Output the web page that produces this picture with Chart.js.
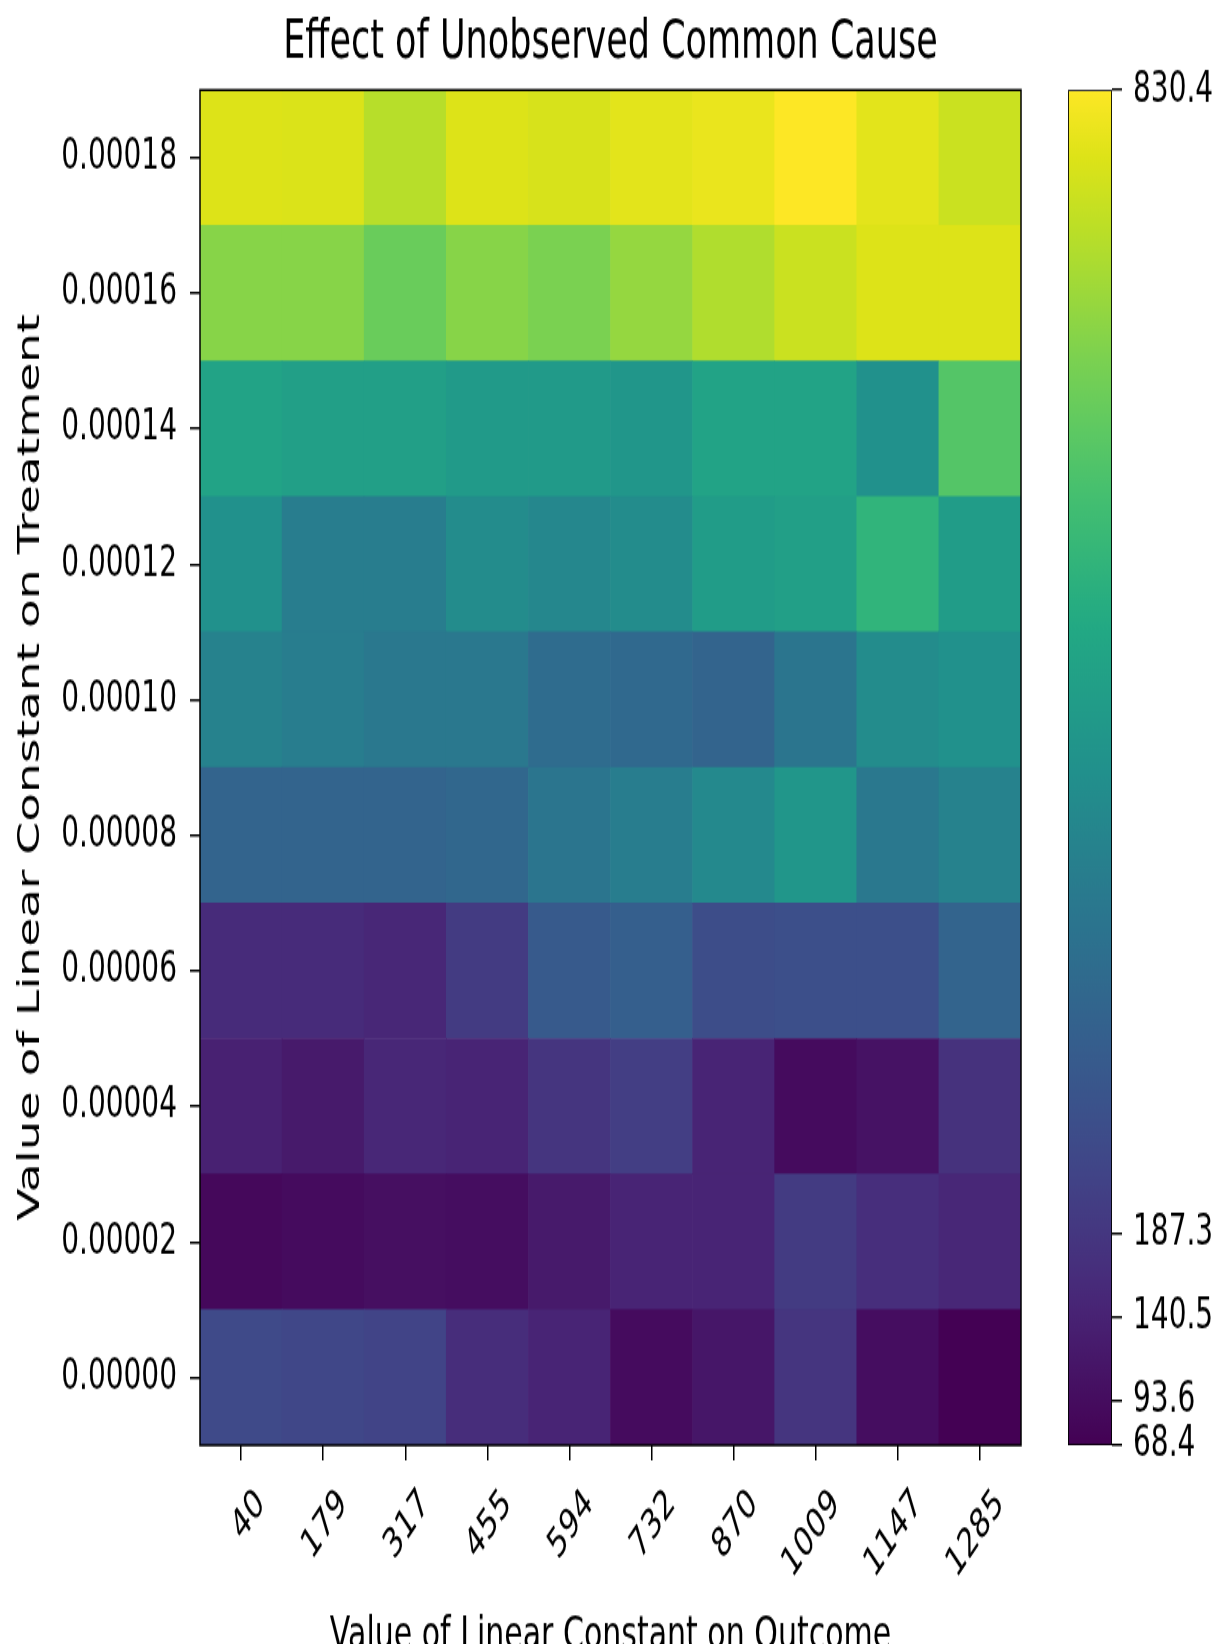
<!DOCTYPE html>
<html>
<head>
<meta charset="utf-8">
<script src="https://cdn.jsdelivr.net/npm/chart.js@4.4.1/dist/chart.umd.min.js"></script>
<style>
  html, body { margin: 0; padding: 0; background: #ffffff; }
  #wrap { position: relative; width: 1232px; height: 1644px; overflow: hidden; background: #ffffff; }
  #wrap canvas { position: absolute; left: 0; top: 0; }
</style>
</head>
<body>
<div id="wrap">
  <canvas id="heat" width="1232" height="1120"></canvas>
  <canvas id="cbar" width="1232" height="1120"></canvas>
</div>
<script>
// ---------------- data ----------------
const outcomeLabels = ['40', '179', '317', '455', '594', '732', '870', '1009', '1147', '1285'];
const treatmentValues = [0.00000, 0.00002, 0.00004, 0.00006, 0.00008, 0.00010, 0.00012, 0.00014, 0.00016, 0.00018];

const effectT00000 = [236, 228, 221, 164, 145, 91, 114, 183, 95, 68.4];
const effectT00002 = [84, 91, 99, 95, 122, 145, 145, 198, 167, 152];
const effectT00004 = [137, 122, 152, 145, 183, 205, 145, 91, 106, 175];
const effectT00006 = [160, 160, 152, 198, 282, 297, 244, 251, 251, 312];
const effectT00008 = [312, 312, 312, 320, 365, 388, 426, 465, 373, 404];
const effectT00010 = [404, 388, 373, 373, 335, 327, 312, 365, 434, 450];
const effectT00012 = [450, 388, 388, 434, 419, 434, 487, 495, 564, 487];
const effectT00014 = [510, 495, 495, 480, 480, 465, 510, 510, 450, 625];
const effectT00016 = [693, 693, 655, 693, 678, 708, 739, 770, 792, 792];
const effectT00018 = [792, 790, 747, 792, 785, 800, 808, 830.4, 800, 770];

const effectRows = [effectT00000, effectT00002, effectT00004, effectT00006, effectT00008,
                    effectT00010, effectT00012, effectT00014, effectT00016, effectT00018];

const colorMin = 68.4;
const colorMax = 830.4;
const colorbarTicks = [68.4, 93.6, 140.5, 187.3, 830.4];

const chartTitle = 'Effect of Unobserved Common Cause';
const xTitle = 'Value of Linear Constant on Outcome';
const yTitle = 'Value of Linear Constant on Treatment';

// ---------------- layout (canvas units; canvas is stretched vertically) ----------------
const CW = 1232, CH = 1120;
const S = 1644 / 1082;            // vertical stretch of the picture
const AREA_TOP = 90 / S, AREA_BOTTOM = 1445 / S;
const AREA_LEFT = 200, AREA_RIGHT = 1021;
const CB_LEFT = 1068, CB_RIGHT = 1112;

['heat', 'cbar'].forEach(id => {
  const c = document.getElementById(id);
  c.style.width = CW + 'px';
  c.style.height = (CH * S) + 'px';
});

// ---------------- viridis ----------------
const VIR = [[0,'#440154'],[0.1,'#482475'],[0.125,'#472d7b'],[0.2,'#414487'],[0.25,'#3b528b'],
  [0.3,'#355f8d'],[0.375,'#2c728e'],[0.4,'#2a788e'],[0.5,'#21918c'],[0.6,'#22a884'],
  [0.625,'#28ae80'],[0.7,'#44bf70'],[0.75,'#5ec962'],[0.8,'#7ad151'],[0.875,'#addc30'],
  [0.9,'#bddf26'],[0.95,'#dde318'],[1,'#fde725']];
function hex2rgb(h) { return [1,3,5].map(i => parseInt(h.substr(i, 2), 16)); }
const VIRRGB = VIR.map(([t, h]) => [t, hex2rgb(h)]);
function viridis(t) {
  t = Math.max(0, Math.min(1, t));
  for (let i = 1; i < VIRRGB.length; i++) {
    if (t <= VIRRGB[i][0]) {
      const [t0, c0] = VIRRGB[i - 1], [t1, c1] = VIRRGB[i];
      const f = (t - t0) / (t1 - t0);
      const c = c0.map((v, k) => Math.round(v + (c1[k] - v) * f));
      return `rgb(${c[0]},${c[1]},${c[2]})`;
    }
  }
  const c = VIRRGB[VIRRGB.length - 1][1];
  return `rgb(${c[0]},${c[1]},${c[2]})`;
}
const colorOf = v => viridis((v - colorMin) / (colorMax - colorMin));

Chart.defaults.font.family = "'DejaVu Sans', sans-serif";
Chart.defaults.color = '#000000';

// ---------------- heatmap ----------------
const step = treatmentValues[1] - treatmentValues[0];
const half = step / 2;

const heatDatasets = effectRows.map((row, r) => ({
  label: treatmentValues[r].toFixed(5),
  data: outcomeLabels.map(() => [treatmentValues[r] - half, treatmentValues[r] + half]),
  backgroundColor: row.map(colorOf),
  borderWidth: 0,
  grouped: false,
  barPercentage: 1.0,
  categoryPercentage: 1.0
}));

const framePlugin = {
  id: 'frame',
  afterDraw(chart) {
    const { ctx, chartArea: a } = chart;
    ctx.save();
    ctx.strokeStyle = '#000';
    ctx.lineWidth = 1.5;
    ctx.strokeRect(a.left, a.top, a.right - a.left, a.bottom - a.top);
    ctx.restore();
  }
};

new Chart(document.getElementById('heat'), {
  type: 'bar',
  data: { labels: outcomeLabels, datasets: heatDatasets },
  options: {
    responsive: false,
    animation: false,
    events: [],
    layout: { padding: { left: 0, right: CW - AREA_RIGHT, top: 0, bottom: 0 } },
    plugins: {
      legend: { display: false },
      tooltip: { enabled: false },
      title: {
        display: true,
        text: chartTitle,
        fullSize: false,
        font: { size: 35, weight: 'normal' },
        color: '#000',
        padding: { top: 8, bottom: AREA_TOP - 8 - 42 }
      }
    },
    scales: {
      x: {
        type: 'category',
        offset: true,
        grid: { display: true, offset: false, drawOnChartArea: false, drawTicks: true, tickLength: 10, color: '#000', lineWidth: 1.5 },
        border: { display: false },
        ticks: { font: { size: 27 }, color: '#000', minRotation: 45, maxRotation: 45, autoSkip: false, padding: 13, labelOffset: 20 },
        title: { display: true, text: xTitle, font: { size: 30 }, color: '#000', padding: { top: 0, bottom: 25 } },
        afterFit(scale) { scale.height = CH - AREA_BOTTOM; }
      },
      y: {
        type: 'linear',
        min: treatmentValues[0] - half,
        max: treatmentValues[treatmentValues.length - 1] + half,
        afterBuildTicks(scale) { scale.ticks = treatmentValues.map(v => ({ value: v })); },
        grid: { display: true, drawOnChartArea: false, drawTicks: true, tickLength: 10, color: '#000', lineWidth: 1.5 },
        border: { display: false },
        ticks: { font: { size: 28 }, color: '#000', padding: 13, callback: v => Number(v).toFixed(5) },
        title: { display: true, text: yTitle, font: { size: 31 }, color: '#000', padding: { top: 12, bottom: 13 } },
        afterFit(scale) { scale.width = AREA_LEFT; }
      }
    }
  },
  plugins: [framePlugin]
});

// ---------------- colorbar ----------------
function gradientFill(context) {
  const chart = context.chart;
  const a = chart.chartArea;
  if (!a) return '#21918c';
  const y = chart.scales.y;
  const g = chart.ctx.createLinearGradient(0, y.getPixelForValue(colorMin), 0, y.getPixelForValue(colorMax));
  VIR.forEach(([t, h]) => g.addColorStop(t, h));
  return g;
}

new Chart(document.getElementById('cbar'), {
  type: 'bar',
  data: {
    labels: [''],
    datasets: [{
      data: [[colorMin, colorMax]],
      backgroundColor: gradientFill,
      borderColor: '#000',
      borderWidth: 1.2,
      borderSkipped: false,
      barPercentage: 1.0,
      categoryPercentage: 1.0
    }]
  },
  options: {
    responsive: false,
    animation: false,
    events: [],
    layout: { padding: { left: CB_LEFT, right: 0, top: AREA_TOP, bottom: CH - AREA_BOTTOM } },
    plugins: { legend: { display: false }, tooltip: { enabled: false }, title: { display: false } },
    scales: {
      x: { display: false, offset: true },
      y: {
        position: 'right',
        min: colorMin,
        max: colorMax,
        afterBuildTicks(scale) { scale.ticks = colorbarTicks.map(v => ({ value: v })); },
        grid: { display: true, drawOnChartArea: false, drawTicks: true, tickLength: 10, color: '#000', lineWidth: 1.5 },
        border: { display: false },
        ticks: { font: { size: 28 }, color: '#000', padding: 11, callback: v => Number(v).toFixed(1) },
        afterFit(scale) { scale.width = CW - CB_RIGHT; }
      }
    }
  }
});
</script>
</body>
</html>
